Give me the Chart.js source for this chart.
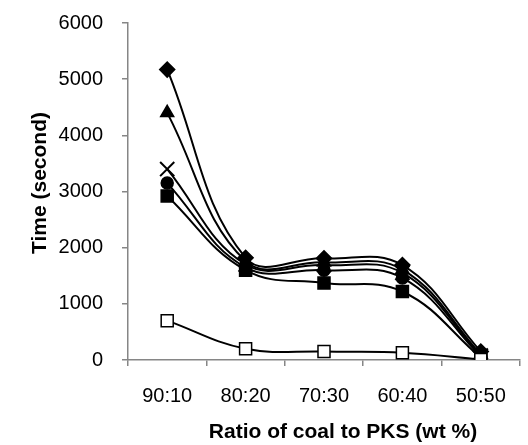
<!DOCTYPE html>
<html>
<head>
<meta charset="utf-8">
<script src="https://cdn.jsdelivr.net/npm/chart.js@4/dist/chart.umd.min.js"></script>
<style>
  html, body { margin: 0; padding: 0; background: #fff; overflow: hidden; }
  #wrap { width: 532px; height: 445px; }
</style>
</head>
<body>
<div id="wrap"><canvas id="myChart"></canvas></div>
<script>
// chart values
const categories = ["90:10", "80:20", "70:30", "60:40", "50:50"];
const diamondVals = [5170, 1820, 1810, 1690, 150];
const triangleVals = [4400, 1760, 1740, 1610, 100];
const crossVals = [3400, 1700, 1690, 1550, 80];
const circleVals = [3150, 1650, 1600, 1460, 60];
const squareVals = [2920, 1600, 1370, 1220, 40];
const openSquareVals = [700, 200, 150, 130, 10];
const yTicks = [0, 1000, 2000, 3000, 4000, 5000, 6000];
const xTitle = "Ratio of coal to PKS (wt %)";
const yTitle = "Time (second)";

let font = "'Liberation Sans', Arial, sans-serif";
let axisGrey = "#868686";

function series(vals, style, radius, fill) {
  return {
    data: vals,
    borderColor: "#000",
    borderWidth: 2,
    tension: 0.4,
    pointStyle: style,
    pointRadius: radius,
    pointBackgroundColor: fill || "#000",
    pointBorderColor: "#000",
    pointBorderWidth: style == "crossRot" ? 2 : 1.5,
    fill: false,
  };
}

// axis titles drawn by hand so they sit where the original puts them
const axisTitles = {
  id: "axisTitles",
  afterDraw(chart) {
    let c = chart.ctx;
    c.save();
    c.fillStyle = "#000";
    c.font = "bold 21px " + font;
    c.textAlign = "center";
    c.textBaseline = "middle";
    c.fillText(xTitle, 343, 432);
    c.translate(40, 183);
    c.rotate(-Math.PI / 2);
    c.fillText(yTitle, 0, 0);
    c.restore();
  },
};

let ctx = document.getElementById("myChart");
let myChart = new Chart(ctx, {
  type: "line",
  data: {
    labels: categories,
    datasets: [
      series(openSquareVals, "rect", 8.5, "#fff"),
      series(squareVals, "rect", 8.5),
      series(circleVals, "circle", 6),
      series(crossVals, "crossRot", 10),
      series(triangleVals, "triangle", 7.5),
      series(diamondVals, "rectRot", 7.5),
    ],
  },
  plugins: [axisTitles],
  options: {
    responsive: true,
    maintainAspectRatio: false,
    animation: false,
    layout: { padding: { top: 23, right: 0, left: 0, bottom: 0 } },
    plugins: { legend: { display: false }, tooltip: { enabled: false } },
    scales: {
      x: {
        offset: true,
        grid: {
          offset: true,
          drawOnChartArea: false,
          drawTicks: true,
          tickLength: 6,
          color: axisGrey,
          lineWidth: 1.5,
        },
        border: { color: axisGrey, width: 1.5 },
        ticks: {
          color: "#000",
          font: { family: font, size: 20 },
          padding: 18,
          maxRotation: 0,
        },
        afterFit: (scale) => { scale.height = 85; },
      },
      y: {
        min: 0,
        max: 6000,
        afterBuildTicks: (scale) => { scale.ticks = yTicks.map((v) => ({ value: v })); },
        grid: {
          drawOnChartArea: false,
          drawTicks: true,
          tickLength: 6,
          color: axisGrey,
          lineWidth: 1.5,
        },
        border: { color: axisGrey, width: 1.5 },
        ticks: {
          color: "#000",
          font: { family: font, size: 20 },
          padding: 19,
          callback: (v) => String(v),
        },
        afterFit: (scale) => {
          scale.width = 128;
          scale.paddingTop = 0;
          scale.paddingBottom = 0;
        },
      },
    },
  },
});
</script>
</body>
</html>
